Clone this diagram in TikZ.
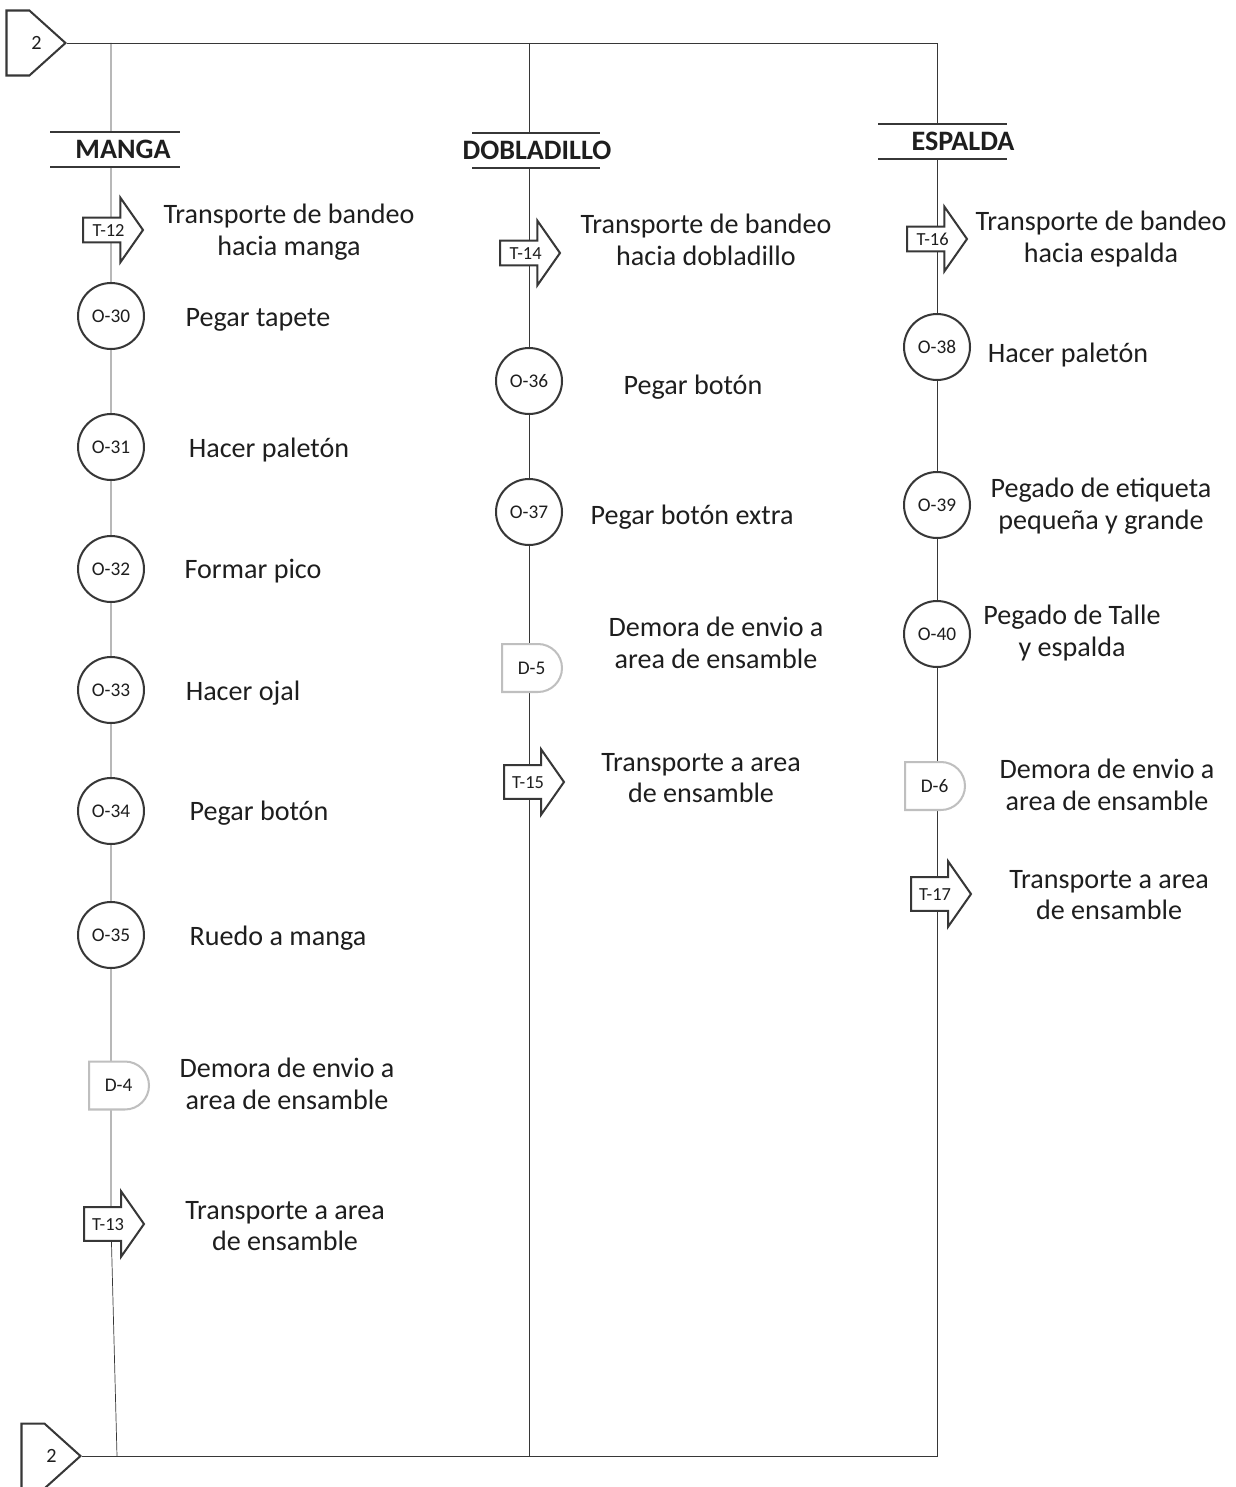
\documentclass[tikz,border=0pt]{standalone}
\usepackage{fontspec}
\setmainfont{Carlito}
\usetikzlibrary{
  calc,
  shapes.geometric,
  shapes.symbols,
  shapes.arrows,
  shapes.misc,
  backgrounds
}
\definecolor{linegray}{RGB}{55,55,55}
\definecolor{txtgray}{RGB}{30,30,30}
\tikzset{
  line cap=round,
  line join=round,
  every picture/.style={line width=1.15pt},
  oper/.style={draw=linegray, fill=white, circle, minimum size=1.32cm, inner sep=0pt, text=txtgray, font=\fontsize{11}{13}\selectfont},
  transp/.style={draw=linegray, fill=white, single arrow, single arrow head extend=0.4cm, single arrow tip angle=110, minimum height=1.2cm, inner ysep=3pt, text height=7pt, text depth=0pt, text=txtgray, font=\fontsize{10.5}{12}\selectfont},
  transpbig/.style={transp, inner ysep=5.5pt, single arrow head extend=0.32cm},
  demora/.style={draw=black!25, fill=white, rounded rectangle, rounded rectangle left arc=none, minimum width=1.2cm, minimum height=0.96cm, inner sep=0pt, text=txtgray, font=\fontsize{11}{13}\selectfont},
  conector/.style={draw=linegray, fill=white, signal, signal to=east, signal pointer angle=84, minimum width=1.18cm, minimum height=1.3cm, inner sep=0pt, text=txtgray, font=\fontsize{11.5}{13}\selectfont},
  encab/.style={fill=white, minimum height=0.66cm, inner xsep=1pt, inner ysep=0pt, text=txtgray, font=\fontsize{16}{18}\selectfont\bfseries},
  desc/.style={align=center, inner sep=0pt, text=txtgray, font=\fontsize{16}{18}\selectfont}
}

\begin{document}
\begin{tikzpicture}[x=0.02cm, y=-0.02cm]
\useasboundingbox (0,0) rectangle (1236,1487);

% conectores
\node[conector, anchor=east] (con1) at (67,43) {\makebox[0pt]{\hspace*{21pt}2}};
\node[conector, anchor=east] (con2) at (82,1456) {\makebox[0pt]{\hspace*{21pt}2}};
\coordinate (botL) at (117,1456);

% encabezados
\node[encab] (hdrM) at (123,149.5) {MANGA};
\node[encab] (hdrD) at (537,150.5) {DOBLADILLO};
\node[encab] (hdrE) at (963,141.5) {ESPALDA};
\draw[linegray] (hdrM.north) ++(-73,0) -- ++(130,0);
\draw[linegray] (hdrM.south) ++(-73,0) -- ++(130,0);
\draw[linegray] (hdrD.north) ++(-65,0) -- ++(128,0);
\draw[linegray] (hdrD.south) ++(-65,0) -- ++(128,0);
\draw[linegray] (hdrE.north) ++(-85,0) -- ++(129,0);
\draw[linegray] (hdrE.south) ++(-85,0) -- ++(129,0);

% manga
\node[transp, anchor=tail] (t12) at (82,230) {T-12};
\node[oper] (o30) at (111,316) {O-30};
\node[oper] (o31) at (111,447) {O-31};
\node[oper] (o32) at (111,569) {O-32};
\node[oper] (o33) at (111,690) {O-33};
\node[oper] (o34) at (111,811) {O-34};
\node[oper] (o35) at (111,935) {O-35};
\node[demora, anchor=west] (d4) at (88,1085.5) {D-4};
\node[transpbig, anchor=tail] (t13) at (83,1224) {T-13};

\node[desc] (lt12) at (289,232) {Transporte de bandeo\\hacia manga};
\node[desc] (lo30) at (258,320) {Pegar tapete};
\node[desc] (lo31) at (269,450) {Hacer paletón};
\node[desc] (lo32) at (253,571) {Formar pico};
\node[desc] (lo33) at (243,693) {Hacer ojal};
\node[desc] (lo34) at (259,813) {Pegar botón};
\node[desc] (lo35) at (278,938) {Ruedo a manga};
\node[desc] (ld4) at (287,1084) {Demora de envio a\\area de ensamble};
\node[desc] (lt13) at (285,1226) {Transporte a area\\de ensamble};

% dobladillo
\node[transp, anchor=tail] (t14) at (499,253) {T-14};
\node[oper] (o36) at (529,381) {O-36};
\node[oper] (o37) at (529,512) {O-37};
\node[demora, anchor=west] (d5) at (501,668) {D-5};
\node[transpbig, anchor=tail] (t15) at (503,782) {T-15};

\node[desc] (lt14) at (706,240) {Transporte de bandeo\\hacia dobladillo};
\node[desc] (lo36) at (693,387) {Pegar botón};
\node[desc] (lo37) at (692,517) {Pegar botón extra};
\node[desc] (ld5) at (716,643) {Demora de envio a\\area de ensamble};
\node[desc] (lt15) at (701,778) {Transporte a area\\de ensamble};

% espalda
\node[transp, anchor=tail] (t16) at (906,239) {T-16};
\node[oper] (o38) at (937,347) {O-38};
\node[oper] (o39) at (937,505) {O-39};
\node[oper] (o40) at (937,634) {O-40};
\node[demora, anchor=west] (d6) at (904,786) {D-6};
\node[transpbig, anchor=tail] (t17) at (910,894) {T-17};

\node[desc] (lt16) at (1101,239) {Transporte de bandeo\\hacia espalda};
\node[desc] (lo38) at (1068,355) {Hacer paletón};
\node[desc] (lo39) at (1101,506) {Pegado de etiqueta\\pequeña y grande};
\node[desc] (lo40) at (1072,633) {Pegado de Talle\\y espalda};
\node[desc] (ld6) at (1107,785) {Demora de envio a\\area de ensamble};
\node[desc] (lt17) at (1109,895) {Transporte a area\\de ensamble};

% lineas de flujo
\begin{scope}[on background layer]
\draw[linegray] (con1.east) -| (o38 |- con2.east) -- (con2.east);
\draw[linegray] (o30 |- con1.east) -- (o30 |- t13.tip) -- (botL);
\draw[linegray] (o36 |- con1.east) -- (o36 |- con2.east);
\end{scope}

\end{tikzpicture}
\end{document}
